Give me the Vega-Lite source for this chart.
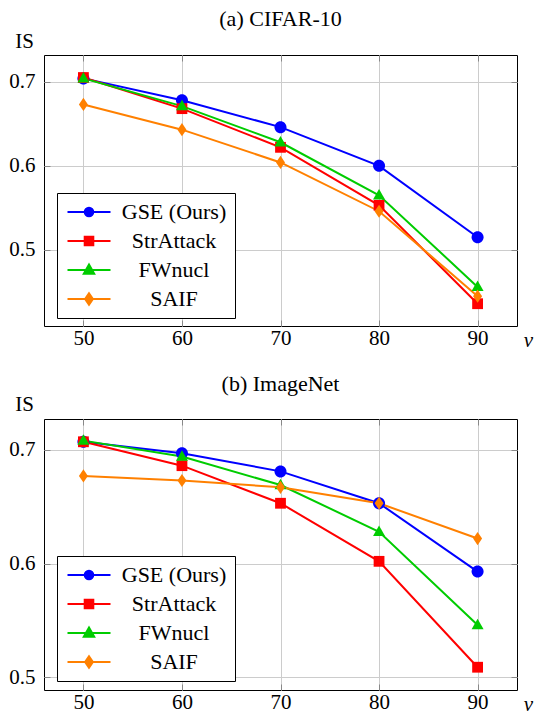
{
  "$schema": "https://vega.github.io/schema/vega-lite/v6.json",
  "padding": {"left": 8, "top": 7, "right": 0, "bottom": 0},
  "autosize": {"type": "pad"},
  "config": {
    "font": "Liberation Serif",
    "view": {"stroke": "black", "strokeWidth": 1},
    "axis": {
      "labelFont": "Liberation Serif", "labelFontSize": 21, "labelColor": "black",
      "titleFont": "Liberation Serif", "titleFontSize": 21, "titleFontWeight": "normal", "titleColor": "black",
      "gridColor": "#cccccc", "gridWidth": 1, "tickColor": "#888888", "tickSize": -6, "tickWidth": 1, "domain": false
    },
    "legend": {
      "title": null, "orient": "none", "strokeColor": "black", "fillColor": "white", "padding": 8, "cornerRadius": 0,
      "labelFont": "Liberation Serif", "labelFontSize": 22, "labelColor": "black", "labelAlign": "center", "labelOffset": 74, "symbolOffset": 13, "rowPadding": 7, "labelLimit": 300
    },
    "title": {"font": "Liberation Serif", "fontSize": 22, "fontWeight": "normal", "color": "black"}
  },
  "datasets": {
    "d": [
      {"panel": "a", "method": "GSE (Ours)", "nu": 50, "is": 0.704},
      {"panel": "a", "method": "GSE (Ours)", "nu": 60, "is": 0.678},
      {"panel": "a", "method": "GSE (Ours)", "nu": 70, "is": 0.646},
      {"panel": "a", "method": "GSE (Ours)", "nu": 80, "is": 0.600},
      {"panel": "a", "method": "GSE (Ours)", "nu": 90, "is": 0.515},
      {"panel": "a", "method": "StrAttack", "nu": 50, "is": 0.705},
      {"panel": "a", "method": "StrAttack", "nu": 60, "is": 0.668},
      {"panel": "a", "method": "StrAttack", "nu": 70, "is": 0.622},
      {"panel": "a", "method": "StrAttack", "nu": 80, "is": 0.553},
      {"panel": "a", "method": "StrAttack", "nu": 90, "is": 0.436},
      {"panel": "a", "method": "FWnucl", "nu": 50, "is": 0.704},
      {"panel": "a", "method": "FWnucl", "nu": 60, "is": 0.671},
      {"panel": "a", "method": "FWnucl", "nu": 70, "is": 0.628},
      {"panel": "a", "method": "FWnucl", "nu": 80, "is": 0.565},
      {"panel": "a", "method": "FWnucl", "nu": 90, "is": 0.456},
      {"panel": "a", "method": "SAIF", "nu": 50, "is": 0.673},
      {"panel": "a", "method": "SAIF", "nu": 60, "is": 0.643},
      {"panel": "a", "method": "SAIF", "nu": 70, "is": 0.604},
      {"panel": "a", "method": "SAIF", "nu": 80, "is": 0.546},
      {"panel": "a", "method": "SAIF", "nu": 90, "is": 0.445},
      {"panel": "b", "method": "GSE (Ours)", "nu": 50, "is": 0.707},
      {"panel": "b", "method": "GSE (Ours)", "nu": 60, "is": 0.697},
      {"panel": "b", "method": "GSE (Ours)", "nu": 70, "is": 0.681},
      {"panel": "b", "method": "GSE (Ours)", "nu": 80, "is": 0.653},
      {"panel": "b", "method": "GSE (Ours)", "nu": 90, "is": 0.593},
      {"panel": "b", "method": "StrAttack", "nu": 50, "is": 0.707},
      {"panel": "b", "method": "StrAttack", "nu": 60, "is": 0.686},
      {"panel": "b", "method": "StrAttack", "nu": 70, "is": 0.653},
      {"panel": "b", "method": "StrAttack", "nu": 80, "is": 0.602},
      {"panel": "b", "method": "StrAttack", "nu": 90, "is": 0.509},
      {"panel": "b", "method": "FWnucl", "nu": 50, "is": 0.708},
      {"panel": "b", "method": "FWnucl", "nu": 60, "is": 0.694},
      {"panel": "b", "method": "FWnucl", "nu": 70, "is": 0.669},
      {"panel": "b", "method": "FWnucl", "nu": 80, "is": 0.628},
      {"panel": "b", "method": "FWnucl", "nu": 90, "is": 0.546},
      {"panel": "b", "method": "SAIF", "nu": 50, "is": 0.677},
      {"panel": "b", "method": "SAIF", "nu": 60, "is": 0.673},
      {"panel": "b", "method": "SAIF", "nu": 70, "is": 0.667},
      {"panel": "b", "method": "SAIF", "nu": 80, "is": 0.653},
      {"panel": "b", "method": "SAIF", "nu": 90, "is": 0.622}
    ]
  },
  "spacing": 21,
  "resolve": {"scale": {"color": "independent"}, "legend": {"color": "independent"}},
  "vconcat": [
    {
      "title": {"text": "(a) CIFAR-10", "frame": "group", "anchor": "middle", "offset": -11, "baseline": "middle"},
      "width": 473, "height": 271,
      "data": {"name": "d"},
      "transform": [{"filter": "datum.panel === 'a'"}],
      "resolve": {"axis": {"x": "independent", "y": "independent"}},
      "encoding": {
        "color": {"field": "method", "type": "nominal", "legend": null,
                  "scale": {"domain": ["GSE (Ours)", "StrAttack", "FWnucl", "SAIF"], "range": ["#0000ff", "#ff0000", "#00cc00", "#ff8000"]}}
      },
      "layer": [
        {
          "mark": {"type": "line", "strokeWidth": 2},
          "encoding": {
            "x": {"field": "nu", "type": "quantitative", "scale": {"domain": [46, 94], "nice": false, "zero": false},
                  "axis": {"values": [50, 60, 70, 80, 90], "title": "ν", "titleFontStyle": "italic", "titleAngle": 0, "titleX": 484, "titleY": 14, "titleBaseline": "middle", "titleAlign": "center", "labelPadding": 7}},
            "y": {"field": "is", "type": "quantitative", "scale": {"domain": [0.4095, 0.7318], "nice": false, "zero": false},
                  "axis": {"values": [0.5, 0.6, 0.7], "format": ".1f", "title": "IS", "titleAngle": 0, "titleX": -20, "titleY": -14, "titleBaseline": "middle", "titleAlign": "center", "labelPadding": 15}},
            "color": {"field": "method", "type": "nominal",
                      "legend": {"legendX": 13, "legendY": 138,
                                 "encode": {"symbols": {"update": {
                                   "shape": {"signal": "datum.value === 'GSE (Ours)' ? 'M-2.15,0H2.15M0.43,0A0.43,0.43,0,1,1,-0.43,0A0.43,0.43,0,1,1,0.43,0Z' : datum.value === 'StrAttack' ? 'M-2.15,0H2.15M-0.43,-0.43H0.43V0.43H-0.43Z' : datum.value === 'FWnucl' ? 'M-2.15,0H2.15M0,-0.54L0.52,0.37L-0.52,0.37Z' : 'M-2.15,0H2.15M0,-0.58L0.39,0L0,0.58L-0.39,0Z'"},
                                   "size": {"value": 400},
                                   "fill": {"signal": "datum.value === 'GSE (Ours)' ? '#0000ff' : datum.value === 'StrAttack' ? '#ff0000' : datum.value === 'FWnucl' ? '#00cc00' : '#ff8000'"},
                                   "stroke": {"signal": "datum.value === 'GSE (Ours)' ? '#0000ff' : datum.value === 'StrAttack' ? '#ff0000' : datum.value === 'FWnucl' ? '#00cc00' : '#ff8000'"},
                                   "strokeWidth": {"value": 2},
                                   "opacity": {"value": 1}
                                 }}}}
            }
          }
        },
        {
          "transform": [{"filter": "datum.method === 'GSE (Ours)'"}],
          "mark": {"type": "point", "filled": true, "opacity": 1, "size": 144, "shape": "M1,0A1,1,0,1,1,-1,0A1,1,0,1,1,1,0Z"},
          "encoding": {
            "x": {"field": "nu", "type": "quantitative", "axis": {"orient": "top", "values": [50, 60, 70, 80, 90], "labels": false, "grid": false, "title": null}},
            "y": {"field": "is", "type": "quantitative", "axis": {"orient": "right", "values": [0.5, 0.6, 0.7], "labels": false, "grid": false, "title": null}}
          }
        },
        {
          "transform": [{"filter": "datum.method === 'StrAttack'"}],
          "mark": {"type": "point", "filled": true, "opacity": 1, "size": 144, "shape": "M-0.9,-0.9H0.9V0.9H-0.9Z"},
          "encoding": {
            "x": {"field": "nu", "type": "quantitative", "axis": null},
            "y": {"field": "is", "type": "quantitative", "axis": null}
          }
        },
        {
          "transform": [{"filter": "datum.method === 'FWnucl'"}],
          "mark": {"type": "point", "filled": true, "opacity": 1, "size": 144, "shape": "M0,-1.05L1,0.7L-1,0.7Z"},
          "encoding": {
            "x": {"field": "nu", "type": "quantitative", "axis": null},
            "y": {"field": "is", "type": "quantitative", "axis": null}
          }
        },
        {
          "transform": [{"filter": "datum.method === 'SAIF'"}],
          "mark": {"type": "point", "filled": true, "opacity": 1, "size": 144, "shape": "M0,-1.1L0.75,0L0,1.1L-0.75,0Z"},
          "encoding": {
            "x": {"field": "nu", "type": "quantitative", "axis": null},
            "y": {"field": "is", "type": "quantitative", "axis": null}
          }
        }
      ]
    },
    {
      "title": {"text": "(b) ImageNet", "frame": "group", "anchor": "middle", "offset": -13, "baseline": "middle"},
      "width": 473, "height": 271,
      "data": {"name": "d"},
      "transform": [{"filter": "datum.panel === 'b'"}],
      "resolve": {"axis": {"x": "independent", "y": "independent"}},
      "encoding": {
        "color": {"field": "method", "type": "nominal", "legend": null,
                  "scale": {"domain": ["GSE (Ours)", "StrAttack", "FWnucl", "SAIF"], "range": ["#0000ff", "#ff0000", "#00cc00", "#ff8000"]}}
      },
      "layer": [
        {
          "mark": {"type": "line", "strokeWidth": 2},
          "encoding": {
            "x": {"field": "nu", "type": "quantitative", "scale": {"domain": [46, 94], "nice": false, "zero": false},
                  "axis": {"values": [50, 60, 70, 80, 90], "title": "ν", "titleFontStyle": "italic", "titleAngle": 0, "titleX": 484, "titleY": 14, "titleBaseline": "middle", "titleAlign": "center", "labelPadding": 7}},
            "y": {"field": "is", "type": "quantitative", "scale": {"domain": [0.489, 0.727], "nice": false, "zero": false},
                  "axis": {"values": [0.5, 0.6, 0.7], "format": ".1f", "title": "IS", "titleAngle": 0, "titleX": -20, "titleY": -15, "titleBaseline": "middle", "titleAlign": "center", "labelPadding": 15}},
            "color": {"field": "method", "type": "nominal",
                      "legend": {"legendX": 13, "legendY": 137,
                                 "encode": {"symbols": {"update": {
                                   "shape": {"signal": "datum.value === 'GSE (Ours)' ? 'M-2.15,0H2.15M0.43,0A0.43,0.43,0,1,1,-0.43,0A0.43,0.43,0,1,1,0.43,0Z' : datum.value === 'StrAttack' ? 'M-2.15,0H2.15M-0.43,-0.43H0.43V0.43H-0.43Z' : datum.value === 'FWnucl' ? 'M-2.15,0H2.15M0,-0.54L0.52,0.37L-0.52,0.37Z' : 'M-2.15,0H2.15M0,-0.58L0.39,0L0,0.58L-0.39,0Z'"},
                                   "size": {"value": 400},
                                   "fill": {"signal": "datum.value === 'GSE (Ours)' ? '#0000ff' : datum.value === 'StrAttack' ? '#ff0000' : datum.value === 'FWnucl' ? '#00cc00' : '#ff8000'"},
                                   "stroke": {"signal": "datum.value === 'GSE (Ours)' ? '#0000ff' : datum.value === 'StrAttack' ? '#ff0000' : datum.value === 'FWnucl' ? '#00cc00' : '#ff8000'"},
                                   "strokeWidth": {"value": 2},
                                   "opacity": {"value": 1}
                                 }}}}
            }
          }
        },
        {
          "transform": [{"filter": "datum.method === 'GSE (Ours)'"}],
          "mark": {"type": "point", "filled": true, "opacity": 1, "size": 144, "shape": "M1,0A1,1,0,1,1,-1,0A1,1,0,1,1,1,0Z"},
          "encoding": {
            "x": {"field": "nu", "type": "quantitative", "axis": {"orient": "top", "values": [50, 60, 70, 80, 90], "labels": false, "grid": false, "title": null}},
            "y": {"field": "is", "type": "quantitative", "axis": {"orient": "right", "values": [0.5, 0.6, 0.7], "labels": false, "grid": false, "title": null}}
          }
        },
        {
          "transform": [{"filter": "datum.method === 'StrAttack'"}],
          "mark": {"type": "point", "filled": true, "opacity": 1, "size": 144, "shape": "M-0.9,-0.9H0.9V0.9H-0.9Z"},
          "encoding": {
            "x": {"field": "nu", "type": "quantitative", "axis": null},
            "y": {"field": "is", "type": "quantitative", "axis": null}
          }
        },
        {
          "transform": [{"filter": "datum.method === 'FWnucl'"}],
          "mark": {"type": "point", "filled": true, "opacity": 1, "size": 144, "shape": "M0,-1.05L1,0.7L-1,0.7Z"},
          "encoding": {
            "x": {"field": "nu", "type": "quantitative", "axis": null},
            "y": {"field": "is", "type": "quantitative", "axis": null}
          }
        },
        {
          "transform": [{"filter": "datum.method === 'SAIF'"}],
          "mark": {"type": "point", "filled": true, "opacity": 1, "size": 144, "shape": "M0,-1.1L0.75,0L0,1.1L-0.75,0Z"},
          "encoding": {
            "x": {"field": "nu", "type": "quantitative", "axis": null},
            "y": {"field": "is", "type": "quantitative", "axis": null}
          }
        }
      ]
    }
  ]
}
